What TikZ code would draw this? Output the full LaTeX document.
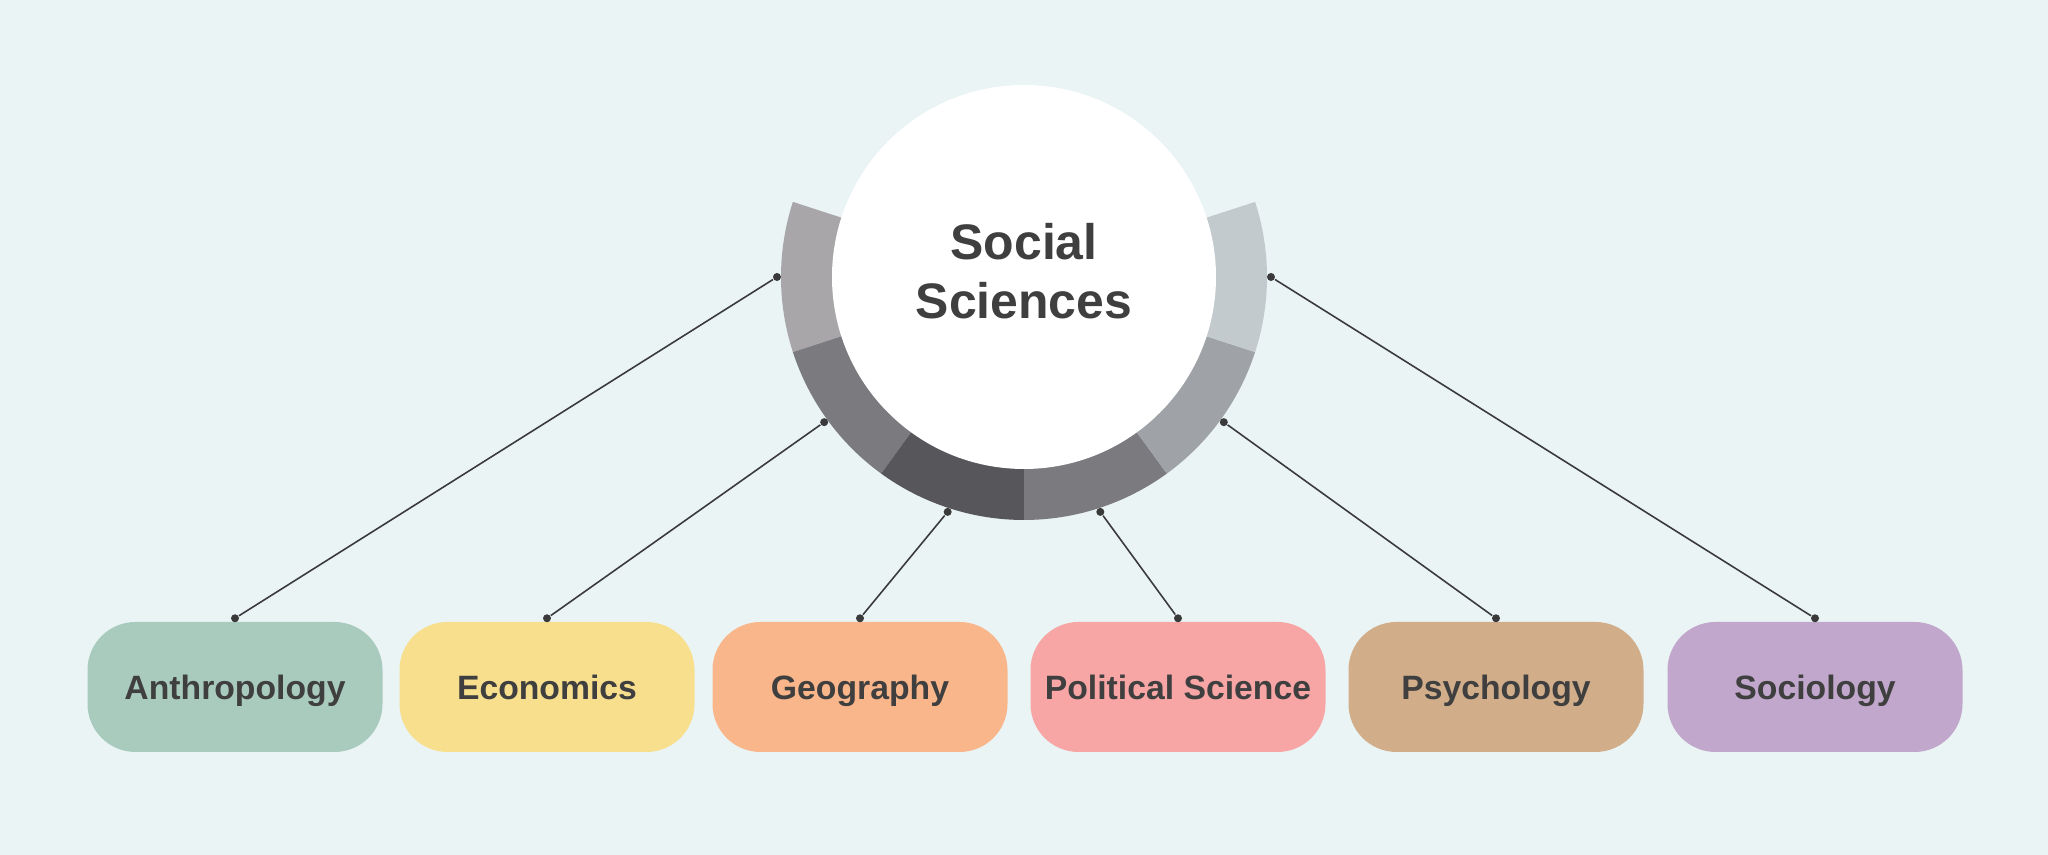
\documentclass[tikz,border=0pt]{standalone}
\usepackage{fontspec}
\setmainfont{Liberation Sans}
\usetikzlibrary{calc}
\definecolor{bgcol}{HTML}{EAF4F4}
\definecolor{txtcol}{HTML}{3F3F3F}
\definecolor{linecol}{HTML}{3A3A3A}
\definecolor{ringA}{HTML}{A8A6A9}
\definecolor{ringB}{HTML}{7B7A7F}
\definecolor{ringC}{HTML}{57565B}
\definecolor{ringD}{HTML}{9FA3A7}
\definecolor{ringE}{HTML}{C3CACD}
\definecolor{anthcol}{HTML}{A9CBBE}
\definecolor{econcol}{HTML}{F7DF8E}
\definecolor{geocol}{HTML}{FAB68B}
\definecolor{polcol}{HTML}{F7A5A5}
\definecolor{psycol}{HTML}{D1AD8A}
\definecolor{socicol}{HTML}{C0A7CB}
\tikzset{
  subject/.style={rectangle, rounded corners=0.48cm, minimum width=2.95cm, minimum height=1.3cm,
    inner sep=0pt, text height=0.72em, text depth=0pt, text=txtcol,
    font=\bfseries\fontsize{9.6}{11}\selectfont},
  dot/.style={circle, fill=linecol, inner sep=0pt, minimum size=0.08cm},
  link/.style={draw=linecol, line width=0.45pt}
}
\begin{document}
\begin{tikzpicture}
\fill[bgcol] (0,0) rectangle (20.48,8.55);
\useasboundingbox (0,0) rectangle (20.48,8.55);
\coordinate (c) at (10.24,5.78);
% ring around the hub
\foreach \a/\col in {162/ringA,198/ringB,234/ringC,270/ringB,306/ringD,342/ringE}
  \fill[\col] (c) -- ++(\a:2.43) arc[start angle=\a, delta angle=36, radius=2.43] -- cycle;
\node[circle, fill=white, minimum size=3.84cm, inner sep=0pt] (hub) at (c) {};
\node[text=txtcol, font=\bfseries\fontsize{14.2}{16.8}\selectfont, align=center]
  (hubtext) at ([yshift=0.06cm]hub.center) {Social\\Sciences};
% subjects
\node[subject, fill=anthcol] (sub0) at (2.35,1.68) {Anthropology};
\node[subject, fill=econcol] (sub1) at (5.47,1.68) {Economics};
\node[subject, fill=geocol] (sub2) at (8.60,1.68) {Geography};
\node[subject, fill=polcol] (sub3) at (11.78,1.68) {Political Science};
\node[subject, fill=psycol] (sub4) at (14.96,1.68) {Psychology};
\node[subject, fill=socicol] (sub5) at (18.15,1.68) {Sociology};
% connectors
\foreach \i/\a in {0/180,1/216,2/252,3/288,4/324,5/360}{
  \node[dot] (rd\i) at ($(c)+(\a:2.47)$) {};
  \node[dot] (bd\i) at ([yshift=0.03cm]sub\i.north) {};
  \draw[link] (rd\i) -- (bd\i);
}
\end{tikzpicture}
\end{document}
